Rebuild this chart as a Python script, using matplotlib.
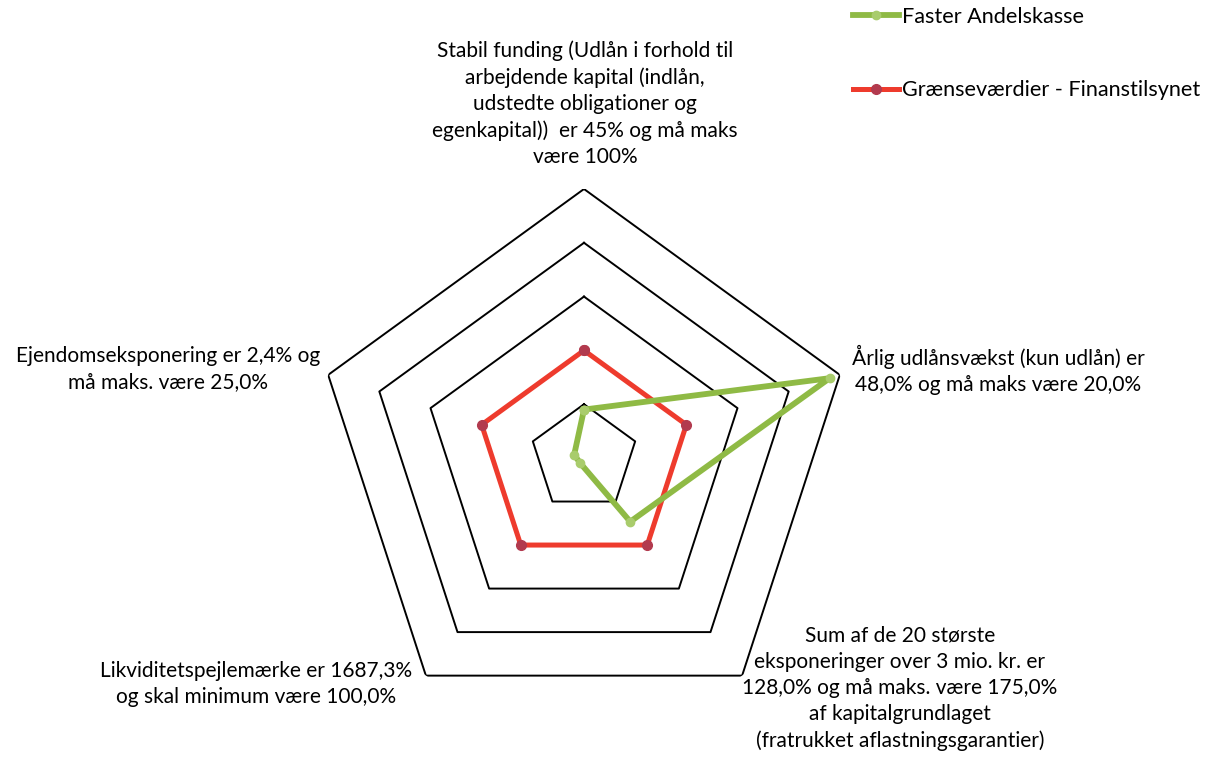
import numpy as np
import matplotlib
matplotlib.use("Agg")
import matplotlib.pyplot as plt

plt.rcParams['font.family'] = ['Lato', 'DejaVu Sans']

# Nøgletal (Tilsynsdiamanten)
labels = [
    "Stabil funding (Udlån i forhold til\narbejdende kapital (indlån,\nudstedte obligationer og\negenkapital))  er 45% og må maks\nvære 100%",
    "Årlig udlånsvækst (kun udlån) er\n48,0% og må maks være 20,0%",
    "Sum af de 20 største\neksponeringer over 3 mio. kr. er\n128,0% og må maks. være 175,0%\naf kapitalgrundlaget\n(fratrukket aflastningsgarantier)",
    "Likviditetspejlemærke er 1687,3%\nog skal minimum være 100,0%",
    "Ejendomseksponering er 2,4% og\nmå maks. være 25,0%",
]
actual = [45.0, 48.0, 128.0, 1687.3, 2.4]     # pct.
limit = [100.0, 20.0, 175.0, 100.0, 25.0]     # pct.
is_minimum = [False, False, False, True, False]

limit_level = 2.0                              # grænseværdien ligger på ring 2
rings = [1, 2, 3, 4, 5]

bank_name = "Faster Andelskasse"
limit_name = "Grænseværdier - Finanstilsynet"

# Forholdstal mod grænseværdien (for minimumskrav vendes forholdet om)
ratio = [(l / a) if m else (a / l) for a, l, m in zip(actual, limit, is_minimum)]
bank_vals = [r * limit_level for r in ratio]
limit_vals = [limit_level] * len(labels)

W, H = 1213, 758
fig = plt.figure(figsize=(W / 100, H / 100), dpi=100)

cx, cy, R = 584, 458, 269
ax = fig.add_axes([(cx - R) / W, (H - cy - R) / H, 2 * R / W, 2 * R / H],
                  projection='polar')
ax.set_theta_offset(np.pi / 2)
ax.set_theta_direction(-1)
ax.set_ylim(0, max(rings))
ax.axis('off')

n = len(labels)
theta = np.linspace(0, 2 * np.pi, n, endpoint=False)
theta_c = np.append(theta, theta[0])

for r in rings:
    ax.plot(theta_c, [r] * (n + 1), color='black', lw=1.4, zorder=1)

ax.plot(theta_c, limit_vals + limit_vals[:1], color='#ee3b2d', lw=3.6,
        marker='o', ms=7, mfc='#b23a4e', mec='#b23a4e', zorder=3,
        label=limit_name)
ax.plot(theta_c, bank_vals + bank_vals[:1], color='#8fba45', lw=4.2,
        marker='o', ms=6, mfc='#a9cc6c', mec='#a9cc6c', zorder=4,
        label=bank_name)

fs = 15
ls = 1.38
def px(x, y):
    return x / W, 1 - y / H

# Aksetekster
fig.text(*px(585, 104), labels[0], ha='center', va='center', fontsize=fs,
         linespacing=ls)
fig.text(*px(998, 370), labels[1], ha='center', va='center', fontsize=fs,
         linespacing=ls)
fig.text(*px(900, 688), labels[2], ha='center', va='center', fontsize=fs,
         linespacing=ls)
fig.text(*px(256, 684), labels[3], ha='center', va='center', fontsize=fs,
         linespacing=ls)
fig.text(*px(168, 369), labels[4], ha='center', va='center', fontsize=fs,
         linespacing=ls)

h, l = ax.get_legend_handles_labels()
fig.legend(h[::-1], l[::-1], loc='upper left',
           bbox_to_anchor=(853 / W, 1 - 7 / H), frameon=False,
           fontsize=15.6, labelspacing=2.45, handlelength=2.1,
           handletextpad=0.15, borderpad=0, borderaxespad=0)

fig.savefig("out.png", dpi=100)
